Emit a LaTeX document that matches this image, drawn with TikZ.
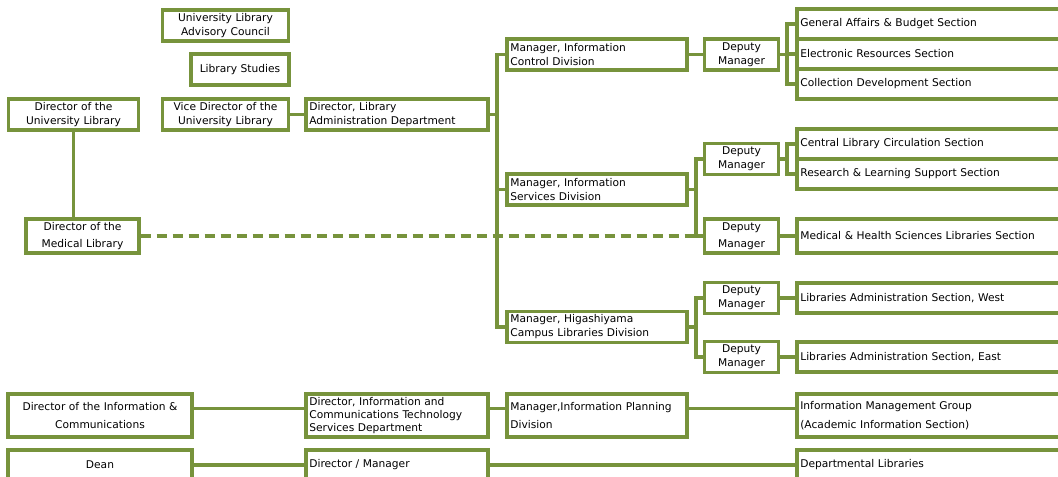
\documentclass[tikz,border=0pt]{standalone}
\usepackage{fontspec}
\setmainfont{DejaVu Sans}
\definecolor{olivegreen}{HTML}{77933C}

\begin{document}
\begin{tikzpicture}[
	x=0.75pt, y=-0.75pt,
	box/.style={draw=olivegreen, line width=2.4pt, fill=white, inner xsep=2.5pt, inner ysep=0pt, font=\fontsize{8}{10.5}\selectfont},
	lbox/.style={box, align=left},
	cbox/.style={box, align=center},
	colA/.style={cbox, text width=93pt, minimum height=23.25pt},
	colB/.style={cbox, text width=90pt, minimum height=23.25pt},
	colC/.style={lbox, text width=131.5pt, minimum height=23.25pt},
	mgr/.style={lbox, text width=130pt, minimum height=23.25pt},
	deputy/.style={cbox, text width=50pt, minimum height=23.25pt},
	section/.style={lbox, text width=205pt, minimum height=22.5pt},
	wide/.style={cbox, text width=133pt, minimum height=32.25pt},
	link/.style={draw=olivegreen, line width=2.5pt, line cap=rect},
	dashlink/.style={draw=olivegreen, line width=2.5pt, dash pattern=on 7.5pt off 4.5pt}
	]
	
	\path[use as bounding box, fill=white] (0,0) rectangle (1058,477);
	
	%-----------------------
	% Column positions
	%-----------------------
	\def\xA{73.5}    % directors (left)
	\def\xB{225.5}   % vice director, council
	\def\xC{397}     % departments
	\def\xD{597}     % managers
	\def\xE{741.5}   % deputy managers
	\def\xF{937}     % sections
	\def\xW{100}     % wide boxes (bottom rows)
	
	%-----------------------
	% Top left
	%-----------------------
	\node[colB] (council) at (\xB,25.5) {University Library\\Advisory Council};
	\node[cbox, text width=68.5pt, minimum height=23.25pt] (studies) at (240,69.5) {Library Studies};
	
	\node[colA] (dirUL) at (\xA,114.5) {Director of the\\University Library};
	\node[colB] (vice) at (\xB,114.5) {Vice Director of the\\University Library};
	\node[colC] (dirLA) at (\xC,114.5) {Director, Library\\Administration Department};
	
	\node[cbox, text width=79.75pt, minimum height=25.5pt, font=\fontsize{8}{13}\selectfont] (medical) at (82.5,236) {Director of the\\Medical Library};
	
	%-----------------------
	% Information Control Division
	%-----------------------
	\node[mgr] (mgrIC) at (\xD,54.5) {Manager, Information\\Control Division};
	\node[deputy] (dep1) at (\xE,54.5) {Deputy\\Manager};
	\node[section] (general) at (\xF,24) {General Affairs \& Budget Section};
	\node[section] (electronic) at (\xF,54) {Electronic Resources Section};
	\node[section] (collection) at (\xF,84) {Collection Development Section};
	
	%-----------------------
	% Information Services Division
	%-----------------------
	\node[mgr] (mgrIS) at (\xD,189.5) {Manager, Information\\Services Division};
	\node[deputy] (dep2) at (\xE,159) {Deputy\\Manager};
	\node[deputy, minimum height=25.5pt, font=\fontsize{8}{12.5}\selectfont] (dep3) at (\xE,236) {Deputy\\Manager};
	\node[section] (central) at (\xF,144) {Central Library Circulation Section};
	\node[section] (research) at (\xF,174) {Research \& Learning Support Section};
	\node[section, minimum height=25.5pt] (medsec) at (\xF,236) {Medical \& Health Sciences Libraries Section};
	
	%-----------------------
	% Higashiyama Campus Libraries Division
	%-----------------------
	\node[mgr] (mgrHC) at (\xD,327) {Manager, Higashiyama\\Campus Libraries Division};
	\node[deputy] (dep4) at (\xE,298) {Deputy\\Manager};
	\node[deputy] (dep5) at (\xE,357) {Deputy\\Manager};
	\node[section] (secW) at (\xF,298) {Libraries Administration Section, West};
	\node[section] (secE) at (\xF,357) {Libraries Administration Section, East};
	
	%-----------------------
	% Bottom rows
	%-----------------------
	\node[wide, font=\fontsize{8}{14}\selectfont] (dirIC) at (\xW,415.5) {Director of the Information \&\\Communications};
	\node[colC, minimum height=32.25pt, font=\fontsize{8}{10}\selectfont] (dirICT) at (\xC,415.5) {Director, Information and\\Communications Technology\\Services Department};
	\node[mgr, minimum height=32.25pt, font=\fontsize{8}{14}\selectfont] (mgrIP) at (\xD,415.5) {Manager,Information Planning\\Division};
	\node[section, minimum height=32.25pt, font=\fontsize{8}{14}\selectfont] (infoMG) at (\xF,415.5) {Information Management Group\\(Academic Information Section)};
	
	\node[wide, minimum height=22.5pt] (dean) at (\xW,465) {Dean};
	\node[colC, minimum height=22.5pt] (dirMgr) at (\xC,465) {Director / Manager};
	\node[section] (deptLib) at (\xF,465) {Departmental Libraries};
	
	%-----------------------
	% Bus lines
	%-----------------------
	\coordinate (bus) at (497,0);
	\coordinate (subbus) at (696,0);
	\coordinate (secbus) at (787,0);
	
	% Director -> divisions
	\draw[link] (vice) -- (dirLA);
	\draw[link] (dirLA.east) -- (dirLA.east -| bus);
	\draw[link] (mgrIC.west) -| (bus |- mgrHC.west) -- (mgrHC.west);
	\draw[link] (mgrIS.west) -- (mgrIS.west -| bus);
	
	% Information Control Division
	\draw[link] (mgrIC) -- (dep1);
	\draw[link] (dep1.east) -- (dep1.east -| secbus);
	\draw[link] (general.west) -| (secbus |- collection.west) -- (collection.west);
	\draw[link] (electronic.west) -- (electronic.west -| secbus);
	
	% Information Services Division
	\draw[link] (mgrIS.east) -- (mgrIS.east -| subbus);
	\draw[link] (dep2.west) -| (subbus |- dep3.west) -- (dep3.west);
	\draw[link] (dep2.east) -- (dep2.east -| secbus);
	\draw[link] (central.west) -| (secbus |- research.west) -- (research.west);
	\draw[link] (dep3) -- (medsec);
	
	% Medical Library
	\draw[link] (dirUL.south) -- (dirUL.south |- medical.north);
	\draw[dashlink] (medical.east) -- (medical.east -| subbus);
	
	% Higashiyama Campus Libraries Division
	\draw[link] (mgrHC.east) -- (mgrHC.east -| subbus);
	\draw[link] (dep4.west) -| (subbus |- dep5.west) -- (dep5.west);
	\draw[link] (dep4) -- (secW);
	\draw[link] (dep5) -- (secE);
	
	% Bottom rows
	\draw[link] ([yshift=5pt]dirIC.east) -- ([yshift=5pt]dirICT.west);
	\draw[link] ([yshift=5pt]dirICT.east) -- ([yshift=5pt]mgrIP.west);
	\draw[link] ([yshift=5pt]mgrIP.east) -- ([yshift=5pt]infoMG.west);
	\draw[link] (dean) -- (dirMgr);
	\draw[link] (dirMgr) -- (deptLib);
	
\end{tikzpicture}
\end{document}
